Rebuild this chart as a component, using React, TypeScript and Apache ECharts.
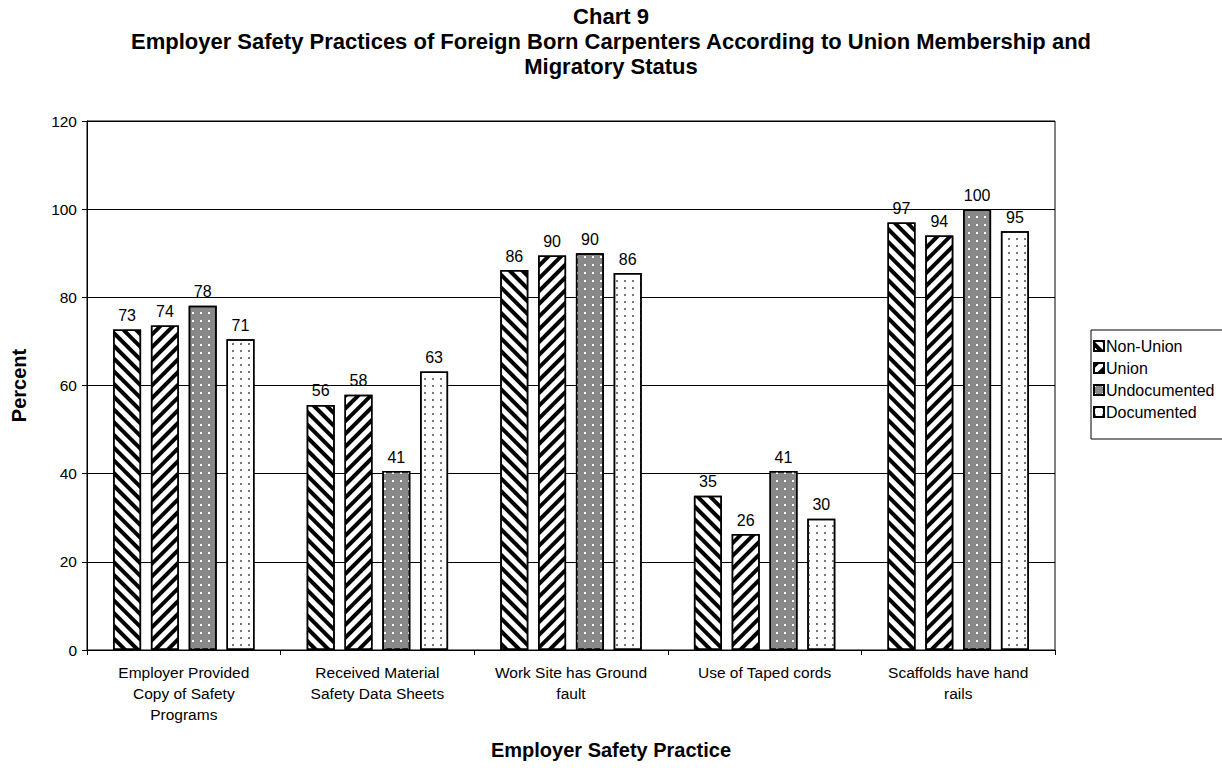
import React, { useEffect, useRef } from "react";
import * as echarts from "echarts";

const categories = [
  "Employer Provided\nCopy of Safety\nPrograms",
  "Received Material\nSafety Data Sheets",
  "Work Site has Ground\nfault",
  "Use of Taped cords",
  "Scaffolds have hand\nrails",
];
const nonUnion = [72.7, 55.6, 86.2, 35.0, 97.0];
const union = [73.6, 57.9, 89.5, 26.3, 94.0];
const undocumented = [78.1, 40.6, 90.0, 40.6, 100.0];
const documented = [70.5, 63.2, 85.5, 29.8, 95.0];
const seriesNames = ["Non-Union", "Union", "Undocumented", "Documented"];

const FONT = "'Liberation Sans', Arial, Helvetica, sans-serif";

export default function App() {
  const ref = useRef<HTMLDivElement>(null);
  useEffect(() => {
    if (!ref.current) return;
    const chart = echarts.init(ref.current, undefined, { renderer: "svg" });
    const fills = ["#fff", "#fff", "#888888", "#fff"];
    const decals: any[] = [
      { symbol: "rect", symbolSize: 1, dashArrayX: [1, 0], dashArrayY: [4, 5], rotation: Math.PI / 4, color: "#000" },
      { symbol: "rect", symbolSize: 1, dashArrayX: [1, 0], dashArrayY: [4, 5], rotation: -Math.PI / 4, color: "#000" },
      { symbol: "rect", symbolSize: 1, dashArrayX: [2, 6], dashArrayY: [2, 6], rotation: 0, color: "#fff" },
      { symbol: "rect", symbolSize: 1, dashArrayX: [2, 6], dashArrayY: [2, 5], rotation: 0, color: "#777" },
    ];
    const data = [nonUnion, union, undocumented, documented];
    chart.setOption({
      animation: false,
      backgroundColor: "#fff",
      textStyle: { fontFamily: FONT },
      title: {
        text: "Chart 9\nEmployer Safety Practices of Foreign Born Carpenters According to Union Membership and\nMigratory Status",
        left: "center",
        top: -1,
        textStyle: { fontFamily: FONT, fontSize: 22, fontWeight: "bold", color: "#000", lineHeight: 25, align: "center" },
      },
      legend: {
        orient: "vertical",
        left: 1091,
        top: 330,
        icon: "rect",
        itemWidth: 10,
        itemHeight: 10,
        itemGap: 6,
        padding: [8, 30, 19, 2],
        borderColor: "#000",
        borderWidth: 1,
        textStyle: { fontFamily: FONT, fontSize: 16, color: "#000", padding: [0, 0, 0, -3] },
        data: seriesNames,
      },
      grid: { left: 87, right: 167, top: 121, bottom: 118, show: true, borderColor: "#000", borderWidth: 1 },
      xAxis: {
        type: "category",
        data: categories,
        name: "Employer Safety Practice",
        nameLocation: "middle",
        nameGap: 90,
        nameTextStyle: { fontFamily: FONT, fontSize: 20, fontWeight: "bold", color: "#000", padding: [0, 0, 0, 80] },
        axisLine: { lineStyle: { color: "#000" } },
        axisTick: { show: true, length: 5, lineStyle: { color: "#000" } },
        axisLabel: { fontFamily: FONT, fontSize: 15.5, color: "#000", lineHeight: 21, margin: 12, interval: 0 },
      },
      yAxis: {
        type: "value",
        min: 0,
        max: 120,
        interval: 20,
        name: "Percent",
        nameLocation: "middle",
        nameGap: 58,
        nameTextStyle: { fontFamily: FONT, fontSize: 20, fontWeight: "bold", color: "#000" },
        axisLine: { show: true, lineStyle: { color: "#000" } },
        axisTick: { show: true, length: 5, lineStyle: { color: "#000" } },
        axisLabel: { fontFamily: FONT, fontSize: 15.5, color: "#000", margin: 10 },
        splitLine: { lineStyle: { color: "#000", width: 1 } },
      },
      series: seriesNames.map((name, i) => ({
        name,
        type: "bar",
        data: data[i],
        barWidth: 28,
        barGap: "35%",
        itemStyle: { color: fills[i], borderColor: "#000", borderWidth: 1.5, decal: decals[i] },
        label: {
          show: true,
          position: "top",
          distance: 6,
          fontFamily: FONT,
          fontSize: 16,
          color: "#000",
          formatter: (p: any) => String(Math.round(p.value)),
        },
      })),
    });
    return () => chart.dispose();
  }, []);
  return <div ref={ref} style={{ width: 1222, height: 768, position: "absolute", left: 0, top: 0 }} />;
}
